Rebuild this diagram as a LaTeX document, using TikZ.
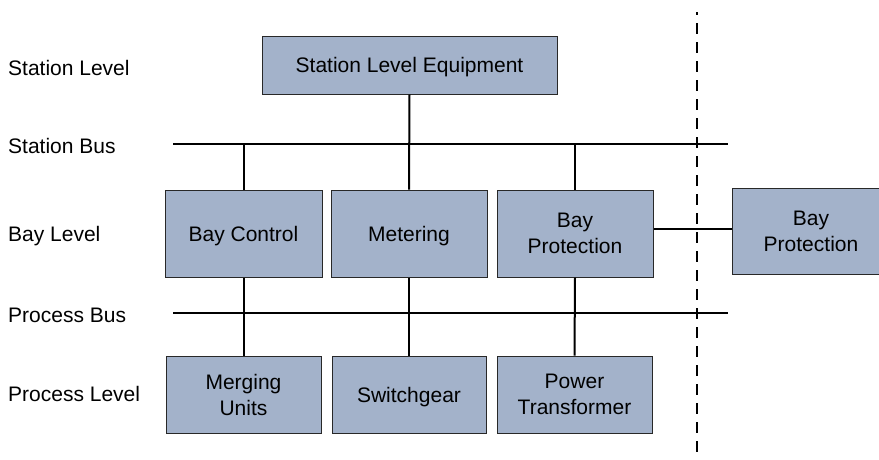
\documentclass[tikz,border=0pt]{standalone}
\usepackage{fontspec}
\setmainfont{Liberation Sans}
\definecolor{boxfill}{RGB}{163,178,202}
\definecolor{boxedge}{RGB}{40,40,40}
\newcommand{\lowertext}[1]{\raisebox{-2.5pt}[\height][\depth]{#1}}
\begin{document}
\begin{tikzpicture}[x=1pt,y=-1pt,
  every node/.style={font=\fontsize{21}{26}\selectfont, inner sep=0pt},
  unit/.style={draw=boxedge, line width=1pt, fill=boxfill, align=center},
  lvl/.style={anchor=base west},
  wire/.style={line width=2pt, black}]
\useasboundingbox (0,0) rectangle (879,459);
\clip (0,0) rectangle (879,459);
% labels
\node[lvl] (l1) at (8,75) {Station Level};
\node[lvl] (l2) at (8,153) {Station Bus};
\node[lvl] (l3) at (8,241) {Bay Level};
\node[lvl] (l4) at (8,322) {Process Bus};
\node[lvl] (l5) at (8,401.5) {Process Level};
% buses
\coordinate (sbL) at (173,144);
\coordinate (sbR) at (728,144);
\coordinate (pbL) at (173,313);
\coordinate (pbR) at (728,313);
% dashed boundary
\coordinate (dT) at (697,12);
\coordinate (dB) at (697,458);
\draw[line width=2pt, dash pattern=on 11pt off 8pt, dash phase=8pt] (dT) -- (dB);
\draw[wire] (sbL) -- (sbR);
\draw[wire] (pbL) -- (pbR);
% boxes
\node[unit, minimum width=295pt, minimum height=58pt] (sle) at (409.5,65) {\lowertext{Station Level Equipment}};
\node[unit, minimum width=157pt, minimum height=87pt] (bc) at (243.5,233.5) {\lowertext{Bay Control}};
\node[unit, minimum width=156pt, minimum height=87pt] (met) at (409,233.5) {\lowertext{Metering}};
\node[unit, minimum width=156pt, minimum height=87pt] (bp) at (575,233.5) {Bay\\Protection};
\node[unit, minimum width=158pt, minimum height=86pt] (bpr) at (811,231) {Bay\\Protection};
\node[unit, minimum width=155pt, minimum height=77pt] (mu) at (243.5,394.5) {Merging\\Units};
\node[unit, minimum width=154pt, minimum height=77pt] (sw) at (409,394.5) {\lowertext{Switchgear}};
\node[unit, minimum width=155pt, minimum height=77pt] (pt) at (574.5,394.5) {Power\\Transformer};
% connectors
\draw[wire] (sle.south) -- (met.north);
\draw[wire] (bc.north |- sbL) -- (bc.north);
\draw[wire] (bp.north |- sbL) -- (bp.north);
\draw[wire] (bc.south) -- (mu.north);
\draw[wire] (met.south) -- (sw.north);
\draw[wire] (bp.south) -- (pt.north);
\draw[wire] (bp.east |- 0,229) -- (bpr.west |- 0,229);
\end{tikzpicture}
\end{document}
